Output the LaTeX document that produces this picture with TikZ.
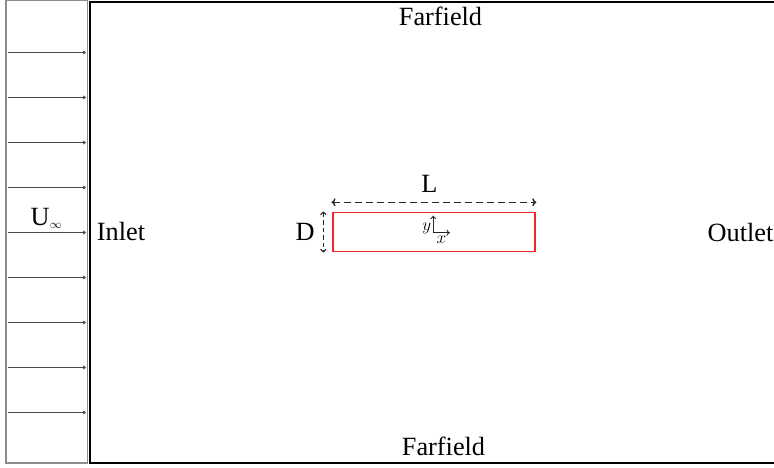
\documentclass[tikz,border=0pt]{standalone}
\usepackage{fontspec}
\setmainfont{Liberation Serif}
\usetikzlibrary{arrows.meta}
\tikzset{
  lbl/.style={font=\fontsize{26.3}{30}\selectfont, inner sep=0pt, anchor=base},
  mlbl/.style={font=\fontsize{18}{20}\selectfont, inner sep=0pt},
  flow/.style={draw=black!72, line width=0.9pt, -{To[length=3pt,width=4pt]}},
  dimarrow/.style={draw=black!85, line width=1.4pt, {To[length=4pt,width=8pt]}-{To[length=4pt,width=8pt]}},
  axisarrow/.style={draw=black!85, line width=0.9pt, -{To[length=3.5pt,width=6pt]}},
  domainline/.style={draw=black, line width=2.4pt},
  inletbox/.style={draw=black!45, line width=1.6pt},
  bodybox/.style={draw={rgb,255:red,240;green,40;blue,40}, line width=1.5pt, inner sep=0pt, minimum width=202.3pt, minimum height=39.4pt}
}
\begin{document}
\begin{tikzpicture}[x=1pt,y=-1pt]
\useasboundingbox (0,0) rectangle (774,468);
\clip (0,0) rectangle (774,468);
% inlet box
\draw[inletbox] (5.7,0.7) rectangle (87.3,463);
% computational domain (right edge outside the view)
\draw[domainline] (800,2) -- (90,2) -- (90,462.8) -- (800,462.8);
% inflow arrows
\foreach \i in {0,...,8} {
  \coordinate (s\i) at (7.5,{52.5+45*\i});
  \coordinate (e\i) at (85.8,{52.5+45*\i});
  \draw[flow] (s\i) -- (e\i);
}
% labels
\node[lbl] (ff1) at (440.5,26) {Farfield};
\node[lbl] (ff2) at (443.5,455) {Farfield};
\node[lbl] (inlet) at (121,240.5) {Inlet};
\node[lbl] (outlet) at (740.5,241) {Outlet};
\node[lbl, anchor=base west] (uinf) at (30.5,225.5) {U\kern0.3pt\raisebox{-3pt}{\fontsize{13}{13}\selectfont$\infty$}};
% body
\node[bodybox] (body) at (433.9,232) {};
% L dimension
\coordinate (la) at (331.5,202.3);
\coordinate (lb) at (536.3,202.3);
\draw[dimarrow, dash pattern=on 7pt off 4pt] (la) -- (lb);
\node[lbl] (L) at (429.5,193) {L};
% D dimension
\coordinate (da) at (323.3,211.5);
\coordinate (db) at (323.3,252.5);
\draw[dimarrow, line width=1pt, {To[length=3.5pt,width=6pt]}-{To[length=3.5pt,width=6pt]}, dash pattern=on 4.5pt off 3pt] (da) -- (db);
\node[lbl] (D) at (305,240.5) {D};
% local axes
\coordinate (o) at (433.3,232.7);
\coordinate (ya) at (433.3,215.5);
\coordinate (xa) at (450,232.7);
\draw[axisarrow] (o) -- (ya);
\draw[axisarrow] (o) -- (xa);
\node[mlbl] (ylab) at (426.7,228) {$y$};
\node[mlbl] (xlab) at (441.5,239.5) {$x$};
\end{tikzpicture}
\end{document}
